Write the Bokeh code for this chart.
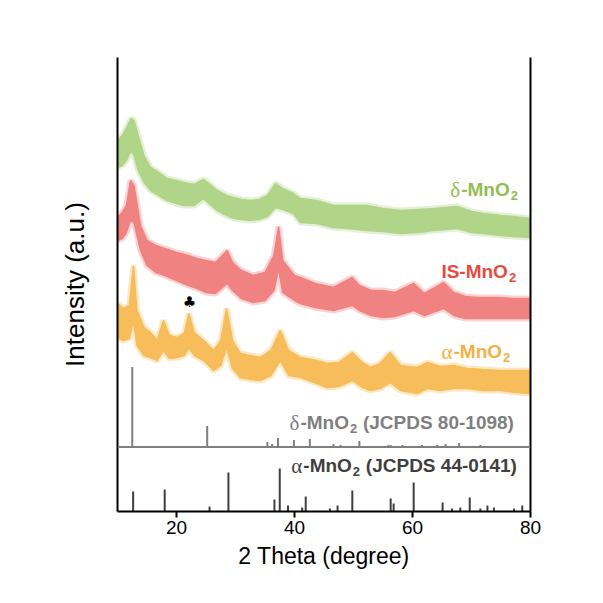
from bokeh.plotting import figure
from bokeh.models import Range1d, FixedTicker, LinearAxis, Span, ColumnDataSource
from bokeh.core.properties import value
from bokeh.embed import file_html
from bokeh.resources import INLINE

# ---------------- data (intensity in a.u.) ----------------
delta_x = [10.0, 10.8, 11.5, 12.3, 12.8, 13.5, 14.5, 15.6, 17.0, 18.4, 20.0, 21.2, 23.0, 24.6, 25.5,
           26.9, 28.5, 29.7, 31.0, 32.5, 34.0, 35.4, 36.8, 38.0, 39.8, 41.0, 43.8, 46.6, 49.0, 52.3,
           55.0, 58.0, 61.0, 63.6, 67.6, 70.0, 72.0, 75.0, 77.0, 80.0]
delta_hi = [371, 376, 383, 393, 391, 376, 356, 344, 339, 333, 331, 329, 327, 332, 328,
            321, 316, 314, 312, 311, 312, 316, 328, 323, 318, 313, 311, 306, 306, 306,
            303, 301, 302, 303, 305, 300, 298, 296, 295, 293]
delta_lo = [344, 346, 351, 361, 356, 341, 329, 321, 316, 311, 308, 306, 306, 313, 308,
            301, 296, 293, 292, 291, 292, 295, 304, 302, 298, 289, 288, 284, 283, 281,
            280, 278, 279, 281, 283, 279, 278, 276, 275, 274]

is_x = [10.0, 10.8, 11.5, 12.2, 12.8, 13.9, 15.0, 16.5, 18.0, 20.0, 22.0, 23.5, 25.0, 26.6, 28.6,
        29.5, 31.0, 33.0, 35.0, 36.5, 37.3, 38.0, 40.0, 41.0, 43.5, 46.6, 49.8, 51.0, 53.0, 55.0,
        57.0, 60.2, 62.0, 65.3, 67.0, 69.0, 71.0, 74.0, 77.0, 80.0]
is_hi = [294, 299, 306, 331, 326, 286, 271, 266, 263, 259, 256, 253, 251, 249, 261,
         249, 241, 236, 239, 256, 285, 251, 236, 234, 228, 224, 234, 226, 221, 221,
         219, 228, 218, 229, 219, 215, 214, 214, 213, 213]
is_lo = [271, 273, 279, 291, 289, 261, 246, 239, 236, 231, 226, 223, 219, 218, 228,
         221, 213, 209, 211, 221, 243, 219, 211, 208, 204, 201, 206, 201, 196, 194,
         195, 201, 196, 203, 196, 193, 193, 193, 193, 193]

alpha_x = [10.0, 11.0, 12.0, 12.7, 13.3, 14.5, 15.6, 16.7, 17.8, 18.8, 20.1, 21.3, 22.1, 23.0, 24.6,
           26.3, 27.5, 28.5, 29.5, 30.8, 32.5, 34.2, 36.0, 37.6, 39.0, 41.0, 43.8, 45.5, 47.5, 49.8,
           51.5, 52.9, 54.5, 56.2, 58.0, 60.8, 62.5, 64.7, 67.0, 69.3, 72.0, 75.0, 77.5, 80.0]
alpha_hi = [208, 203, 206, 246, 201, 184, 179, 171, 191, 176, 174, 178, 198, 179, 171,
            161, 171, 203, 171, 158, 156, 154, 161, 181, 161, 154, 151, 148, 149, 159,
            149, 144, 148, 159, 146, 144, 149, 145, 146, 143, 142, 141, 141, 141]
alpha_lo = [174, 171, 173, 191, 166, 156, 154, 151, 161, 153, 154, 156, 164, 156, 151,
            141, 146, 164, 143, 134, 132, 131, 136, 151, 136, 134, 128, 124, 125, 131,
            124, 121, 123, 129, 121, 118, 123, 121, 123, 123, 121, 121, 119, 118]

# reference patterns (stick positions, relative heights)
jcpds_delta_x = [12.5, 25.2, 35.4, 36.2, 37.2, 39.9, 42.6, 46.6, 47.8, 51.0, 55.9, 56.3, 58.3,
                 61.6, 64.2, 65.6, 67.9, 71.5]
jcpds_delta_h = [80, 21, 5, 3, 9, 7, 8, 3, 2, 6, 2, 2, 2, 2, 2, 3, 4, 2]
jcpds_alpha_x = [12.65, 18.0, 25.6, 28.8, 36.6, 37.5, 38.9, 41.3, 41.9, 46.0, 47.3, 49.8, 56.3,
                 56.8, 60.2, 65.1, 66.7, 68.1, 69.7, 71.5, 72.7, 73.8, 77.2, 78.6]
jcpds_alpha_h = [20, 22, 5, 39, 12, 43, 6, 4, 15, 3, 6, 21, 13, 8, 29, 9, 3, 4, 14, 3, 6, 4, 3, 6]

x_ticks = [20, 40, 60, 80]

DELTA_BASE = 64.5  # baseline offset of the delta reference pattern

GREEN, GREEN_T = "#b0d488", "#8fbf4f"
RED, RED_T = "#f08282", "#e64a40"
ORANGE, ORANGE_T = "#f6bd5a", "#f2b140"
GRAY = "#7f7f7f"
DARK = "#3f3f3f"
SANS = "Liberation Sans"

p = figure(width=587, height=587, x_range=Range1d(10, 80), y_range=Range1d(0, 454),
           output_backend="svg", toolbar_location=None,
           min_border_left=117, min_border_right=57, min_border_top=57, min_border_bottom=76)
p.outline_line_color = None
p.grid.visible = False

# x axis
xa = p.xaxis[0]
xa.ticker = FixedTicker(ticks=x_ticks)
xa.minor_tick_line_color = None
xa.major_tick_in = 0
xa.major_tick_out = 6
xa.major_tick_line_width = 2
xa.axis_line_width = 2
xa.major_label_text_font = SANS
xa.major_label_text_font_size = "19px"
xa.major_label_text_color = "black"
xa.major_label_standoff = 3
xa.axis_label = "2 Theta (degree)"
xa.axis_label_text_font = SANS
xa.axis_label_text_font_size = "23px"
xa.axis_label_text_font_style = "normal"
xa.axis_label_text_color = "black"
xa.axis_label_standoff = 6

# y axis
ya = p.yaxis[0]
ya.ticker = FixedTicker(ticks=[])
ya.major_tick_line_color = None
ya.minor_tick_line_color = None
ya.major_tick_out = 0
ya.axis_line_width = 2
ya.axis_label = "Intensity (a.u.)"
ya.axis_label_text_font = SANS
ya.axis_label_text_font_size = "26px"
ya.axis_label_text_font_style = "normal"
ya.axis_label_text_color = "black"
ya.axis_label_standoff = 28

ra = LinearAxis(ticker=FixedTicker(ticks=[]), axis_line_width=2,
                major_tick_line_color=None, minor_tick_line_color=None, major_tick_out=0)
p.add_layout(ra, "right")

# measured patterns as noisy bands (soft fringe + solid core)
for xs, lo, hi, col in [(delta_x, delta_lo, delta_hi, GREEN),
                        (is_x, is_lo, is_hi, RED),
                        (alpha_x, alpha_lo, alpha_hi, ORANGE)]:
    src = ColumnDataSource(dict(x=xs, lo=lo, hi=hi))
    p.line(x="x", y="lo", source=src, line_color=col, line_width=6, line_alpha=0.35)
    p.line(x="x", y="hi", source=src, line_color=col, line_width=6, line_alpha=0.35)
    p.varea(x="x", y1="lo", y2="hi", source=src, fill_color=col, fill_alpha=1.0)
    p.line(x="x", y="lo", source=src, line_color=col, line_width=1.5)
    p.line(x="x", y="hi", source=src, line_color=col, line_width=1.5)

# reference sticks
p.add_layout(Span(location=DELTA_BASE, dimension="width", line_color=GRAY, line_width=2))
dsrc = ColumnDataSource(dict(x=jcpds_delta_x, y0=[DELTA_BASE] * len(jcpds_delta_x),
                             y1=[DELTA_BASE + h for h in jcpds_delta_h]))
p.segment(x0="x", y0="y0", x1="x", y1="y1", source=dsrc, line_color=GRAY, line_width=2)
asrc = ColumnDataSource(dict(x=jcpds_alpha_x, y0=[0] * len(jcpds_alpha_x), y1=jcpds_alpha_h))
p.segment(x0="x", y0="y0", x1="x", y1="y1", source=asrc, line_color=DARK, line_width=2)


def label(x, y, greek, body, body_w, suffix, color):
    if greek:
        p.text(x=[x], y=[y], text=[greek], text_font=value("Liberation Serif"),
               text_font_size="21px", text_color=color, text_align="right",
               text_baseline="alphabetic", x_offset=-1)
    p.text(x=[x], y=[y], text=[body], text_font=value(SANS), text_font_size="19px",
           text_font_style="bold", text_color=color, text_align="left",
           text_baseline="alphabetic")
    p.text(x=[x], y=[y], text=["2"], text_font=value(SANS), text_font_size="13px",
           text_font_style="bold", text_color=color, text_align="left",
           text_baseline="alphabetic", x_offset=body_w + 1, y_offset=6)
    if suffix:
        p.text(x=[x], y=[y], text=[suffix], text_font=value(SANS), text_font_size="19px",
               text_font_style="bold", text_color=color, text_align="left",
               text_baseline="alphabetic", x_offset=body_w + 14)


label(68.25, 322, "δ", "-MnO", 48.5, None, GREEN_T)
label(64.9, 240, None, "IS-MnO", 66.5, None, RED_T)
label(66.95, 160, "α", "-MnO", 48.5, None, ORANGE_T)
label(41.0, 89, "δ", "-MnO", 48.5, "(JCPDS 80-1098)", GRAY)
label(41.5, 46, "α", "-MnO", 48.5, "(JCPDS 44-0141)", DARK)

# club marker over the 22 degree peak
p.text(x=[22.2], y=[210], text=["♣"], text_font=value("DejaVu Sans"), text_font_size="15px",
       text_color="black", text_align="center", text_baseline="middle")

open("out.html", "w").write(file_html(p, INLINE))
